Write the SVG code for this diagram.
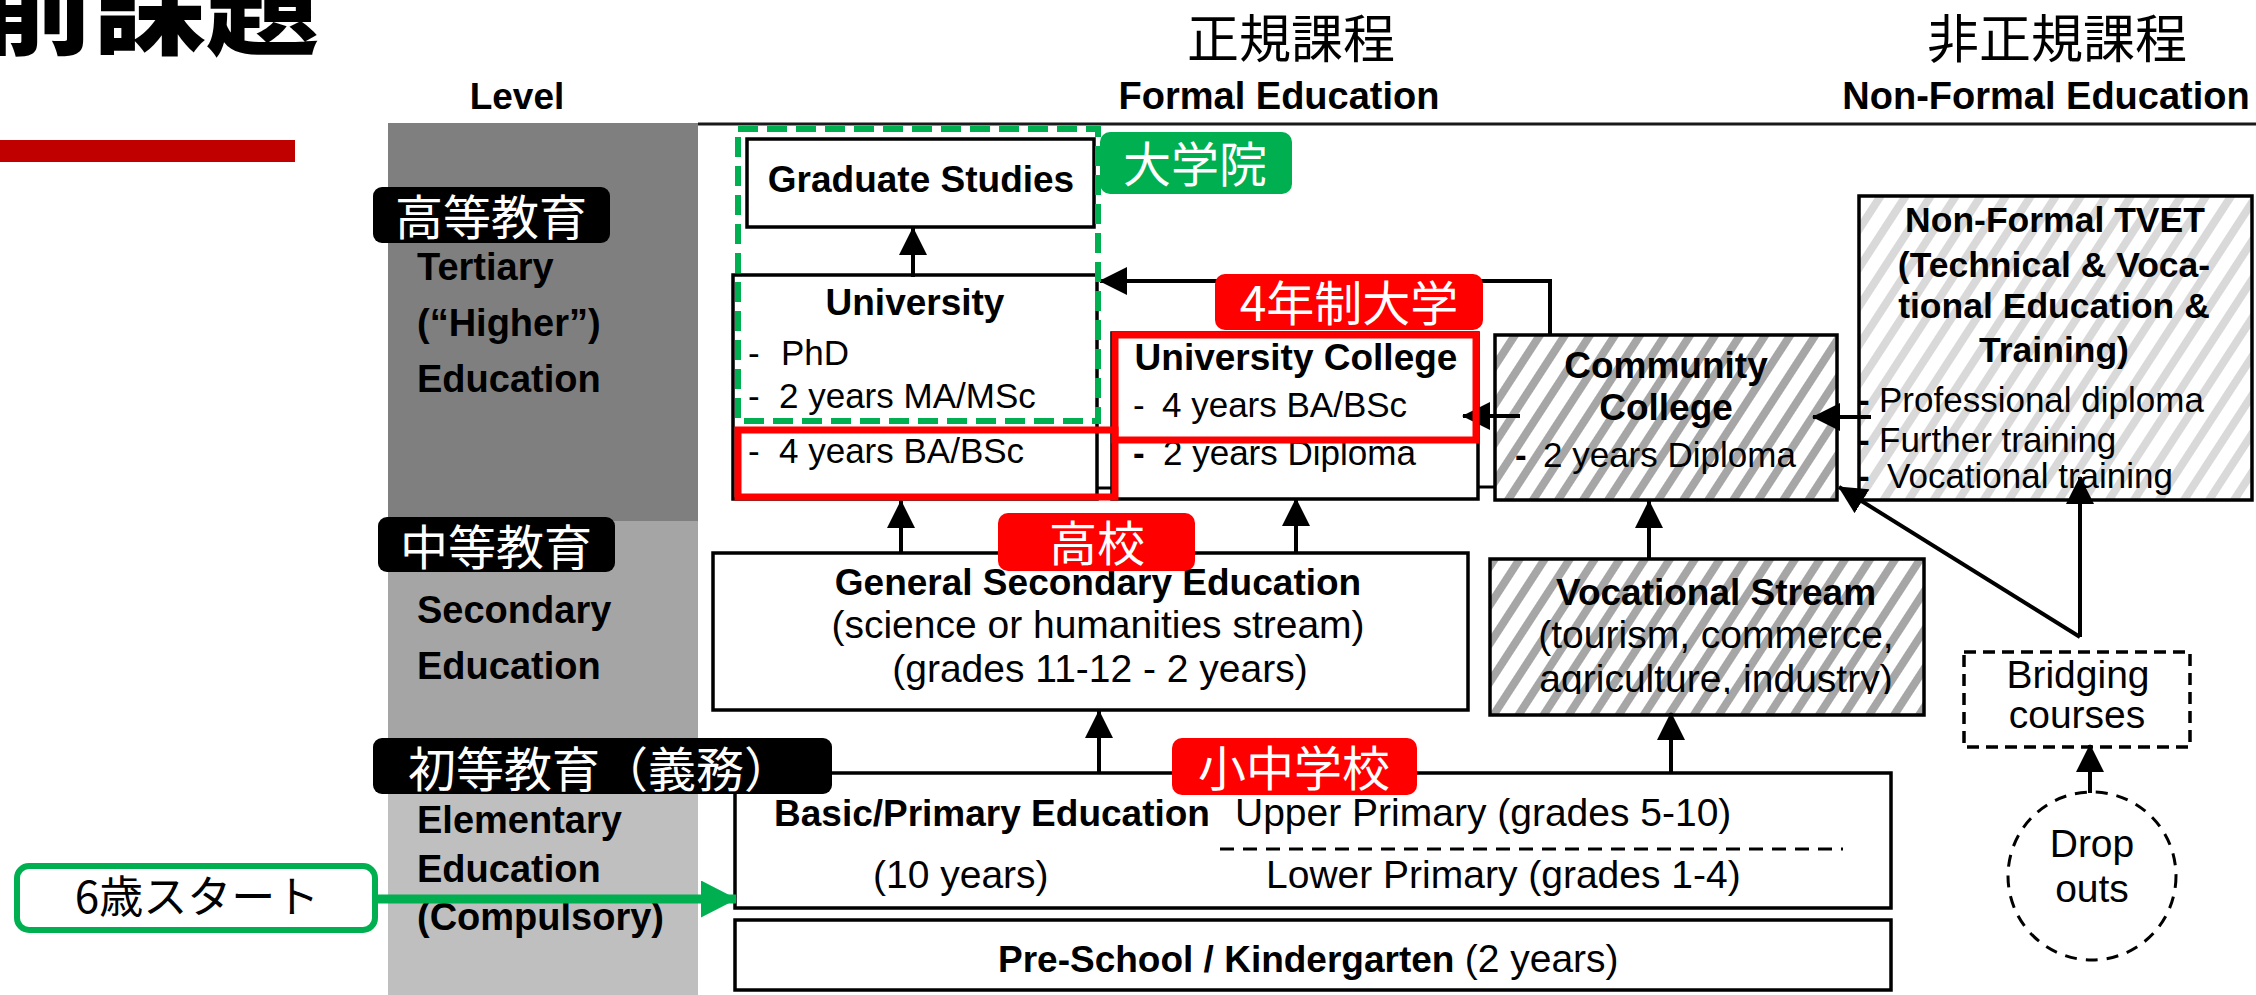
<svg xmlns="http://www.w3.org/2000/svg" width="2256" height="995" viewBox="0 0 2256 995">
<style>
.b{font-family:'Liberation Sans',Arial,sans-serif;font-weight:bold;font-size:37px;fill:#000}
.r{font-family:'Liberation Sans',Arial,sans-serif;font-size:39px;fill:#000}
.s{font-family:'Liberation Sans',Arial,sans-serif;font-size:35px;fill:#000}
.c{text-anchor:middle}
.jw{font-family:'Noto Sans CJK JP',sans-serif;font-size:48px;fill:#fff}
.jb{font-family:'Noto Sans CJK JP',sans-serif;font-size:52px;fill:#000}
.box{fill:#fff;stroke:#000;stroke-width:3.5}
.conn{fill:none;stroke:#000;stroke-width:4;marker-end:url(#ah)}
.red{fill:none;stroke:#ff0000;stroke-width:7}
</style>
<defs>
<marker id="ah" markerUnits="userSpaceOnUse" markerWidth="28" markerHeight="28" viewBox="0 0 28 28" refX="27" refY="14" orient="auto"><path d="M0,0 L28,14 L0,28 z" fill="#000"/></marker>
<marker id="ahg" markerUnits="userSpaceOnUse" markerWidth="36" markerHeight="37" viewBox="0 0 36 37" refX="35" refY="18.5" orient="auto"><path d="M0,0 L36,18.5 L0,37 z" fill="#00b050"/></marker>
<pattern id="hatchD" patternUnits="userSpaceOnUse" width="21" height="21" patternTransform="rotate(33)"><rect width="21" height="21" fill="#fff"/><rect width="8" height="21" fill="#a6a6a6"/></pattern>
<pattern id="hatchL" patternUnits="userSpaceOnUse" width="21" height="21" patternTransform="rotate(33)"><rect width="21" height="21" fill="#fff"/><rect width="8" height="21" fill="#d9d9d9"/></pattern>
<clipPath id="clipAg"><rect x="1492" y="560" width="430" height="134"/></clipPath>
</defs>
<rect width="2256" height="995" fill="#fff"/>

<g id="title">
<text x="-20" y="45" font-family="'Noto Sans CJK JP',sans-serif" font-weight="900" font-size="113" fill="#000">前課題</text>
<rect x="0" y="140" width="295" height="22" fill="#c00000"/>
</g>

<g id="header">
<text class="b c" x="517" y="109">Level</text>
<text class="jb c" x="1291" y="58">正規課程</text>
<text class="b c" x="1279" y="109" style="font-size:38px">Formal Education</text>
<text class="jb c" x="2057" y="58">非正規課程</text>
<text class="b c" x="2046" y="109" style="font-size:38px">Non-Formal Education</text>
<line x1="698" y1="124" x2="2256" y2="124" stroke="#1a1a1a" stroke-width="3"/>
</g>

<g id="level-column">
<rect x="388" y="123" width="310" height="399" fill="#7f7f7f"/>
<rect x="388" y="521" width="310" height="245" fill="#a5a5a5"/>
<rect x="388" y="765" width="310" height="230" fill="#bfbfbf"/>
<text class="b" style="font-size:38px" x="417" y="280">Tertiary</text>
<text class="b" style="font-size:38px" x="417" y="336">(“Higher”)</text>
<text class="b" style="font-size:38px" x="417" y="392">Education</text>
<text class="b" style="font-size:38px" x="417" y="623">Secondary</text>
<text class="b" style="font-size:38px" x="417" y="679">Education</text>
<text class="b" style="font-size:38px" x="417" y="833">Elementary</text>
<text class="b" style="font-size:38px" x="417" y="882">Education</text>
<text class="b" style="font-size:38px" x="417" y="930">(Compulsory)</text>
</g>

<g id="node-start">
<rect x="17" y="866" width="358" height="64" rx="12" fill="#fff" stroke="#00b050" stroke-width="6"/>
<text x="197" y="913" text-anchor="middle" font-family="'Noto Sans CJK JP',sans-serif" font-size="44" fill="#000">6歳スタート</text>
</g>

<g id="node-preschool">
<rect class="box" x="735" y="920" width="1156" height="70"/>
<text x="998" y="972"><tspan class="b">Pre-School / Kindergarten </tspan><tspan class="r">(2 years)</tspan></text>
</g>

<g id="node-basic">
<rect class="box" x="735" y="773" width="1156" height="135"/>
<text class="b" x="774" y="826">Basic/Primary Education</text>
<text class="r" x="1235" y="826">Upper Primary (grades 5-10)</text>
<line x1="1220" y1="849" x2="1843" y2="849" stroke="#000" stroke-width="3" stroke-dasharray="14 9"/>
<text class="r" x="873" y="888">(10 years)</text>
<text class="r" x="1266" y="888">Lower Primary (grades 1-4)</text>
</g>

<g id="node-general-secondary">
<rect class="box" x="713" y="553" width="755" height="157"/>
<text class="b c" x="1098" y="595">General Secondary Education</text>
<text class="r c" x="1098" y="638">(science or humanities stream)</text>
<text class="r c" x="1100" y="682">(grades 11-12 - 2 years)</text>
</g>

<g id="node-vocational">
<rect x="1490" y="559" width="434" height="156" fill="url(#hatchD)" stroke="#000" stroke-width="3.5"/>
<text class="b c" x="1716" y="605">Vocational Stream</text>
<text class="r c" x="1716" y="648">(tourism, commerce,</text>
<text class="r c" x="1716" y="692" clip-path="url(#clipAg)">agriculture, industry)</text>
</g>

<g id="node-graduate">
<rect class="box" x="747" y="139" width="347" height="88"/>
<text class="b c" x="921" y="192">Graduate Studies</text>
</g>

<g id="node-university">
<rect class="box" x="733" y="275" width="364" height="224"/>
<text class="b c" x="915" y="315">University</text>
<text class="s" y="365"><tspan x="748">-</tspan><tspan x="781">PhD</tspan></text>
<text class="s" y="408"><tspan x="748">-</tspan><tspan x="779">2 years MA/MSc</tspan></text>
<text class="s" y="463"><tspan x="748">-</tspan><tspan x="779">4 years BA/BSc</tspan></text>
</g>

<g id="node-university-college">
<rect class="box" x="1112" y="333" width="366" height="166"/>
<text class="b c" x="1296" y="370">University College</text>
<text class="s" y="417"><tspan x="1133">-</tspan><tspan x="1162">4 years BA/BSc</tspan></text>
<text class="s" y="465"><tspan x="1133" font-weight="bold">-</tspan><tspan x="1163">2 years Diploma</tspan></text>
</g>

<g id="node-community-college">
<rect x="1495" y="335" width="342" height="165" fill="url(#hatchD)" stroke="#000" stroke-width="3.5"/>
<text class="b c" x="1666" y="378">Community</text>
<text class="b c" x="1666" y="420">College</text>
<text class="s" y="467"><tspan x="1515" font-weight="bold">-</tspan><tspan x="1543">2 years Diploma</tspan></text>
</g>

<g id="node-tvet">
<rect x="1859" y="196" width="393" height="304" fill="url(#hatchL)" stroke="#000" stroke-width="3.5"/>
<text class="b c" style="font-size:35.5px" x="2055" y="232">Non-Formal TVET</text>
<text class="b c" style="font-size:35.5px" x="2054" y="277">(Technical &amp; Voca-</text>
<text class="b c" style="font-size:35.5px" x="2054" y="318">tional Education &amp;</text>
<text class="b c" style="font-size:35.5px" x="2054" y="362">Training)</text>
<text class="s" y="412"><tspan x="1858" font-weight="bold">-</tspan><tspan x="1879">Professional diploma</tspan></text>
<text class="s" y="452"><tspan x="1858" font-weight="bold">-</tspan><tspan x="1879">Further training</tspan></text>
<text class="s" y="488"><tspan x="1858" font-weight="bold">-</tspan><tspan x="1887">Vocational training</tspan></text>
</g>

<g id="node-bridging">
<rect x="1964" y="652" width="226" height="95" fill="#fff" stroke="#000" stroke-width="3.5" stroke-dasharray="12 7"/>
<text class="r c" x="2078" y="688">Bridging</text>
<text class="r c" x="2077" y="728">courses</text>
</g>

<g id="node-dropouts">
<circle cx="2092" cy="876" r="84" fill="#fff" stroke="#000" stroke-width="3" stroke-dasharray="12 9"/>
<text class="r c" x="2092" y="857">Drop</text>
<text class="r c" x="2092" y="902">outs</text>
</g>

<g id="connectors">
<line x1="1097" y1="488" x2="1113" y2="488" stroke="#000" stroke-width="3"/>
<line x1="1478" y1="487" x2="1495" y2="487" stroke="#000" stroke-width="3"/>
<path class="conn" d="M913,277 V228"/>
<path class="conn" d="M1550,335 V281 H1100"/>
<path class="conn" d="M901,553 V501"/>
<path class="conn" d="M1296,553 V499"/>
<path class="conn" d="M1099,773 V711"/>
<path class="conn" d="M1671,773 V713"/>
<path class="conn" d="M1649,559 V501"/>
<path class="conn" d="M1520,416 H1463"/>
<path class="conn" d="M1871,417 H1813"/>
<path class="conn" d="M2080,637 V477"/>
<path class="conn" d="M2080,637 L1839,487"/>
<path class="conn" d="M2090,793 V745"/>
<path d="M378,899 H736" fill="none" stroke="#00b050" stroke-width="9" marker-end="url(#ahg)"/>
</g>

<g id="annotations">
<rect x="738" y="129" width="360" height="292" fill="none" stroke="#00b050" stroke-width="6" stroke-dasharray="20 9"/>
<rect class="red" x="738" y="430" width="377" height="67"/>
<rect class="red" x="1115" y="335" width="361" height="105"/>
<g id="label-daigakuin"><rect x="1100" y="132" width="192" height="62" rx="10" fill="#00b050"/><text class="jw c" x="1195" y="182">大学院</text></g>
<g id="label-4nen"><rect x="1215" y="274" width="268" height="56" rx="10" fill="#ff0000"/><text class="jw c" x="1349" y="321">4年制大学</text></g>
<g id="label-koukou"><rect x="998" y="513" width="197" height="58" rx="10" fill="#ff0000"/><text class="jw c" x="1097" y="561">高校</text></g>
<g id="label-shochu"><rect x="1172" y="738" width="245" height="57" rx="10" fill="#ff0000"/><text class="jw c" x="1294" y="786">小中学校</text></g>
<g id="label-koutou"><rect x="373" y="187" width="237" height="56" rx="9" fill="#000"/><text class="jw c" x="491" y="235">高等教育</text></g>
<g id="label-chuutou"><rect x="378" y="517" width="237" height="55" rx="9" fill="#000"/><text class="jw c" x="496" y="565">中等教育</text></g>
<g id="label-shotou"><rect x="373" y="738" width="459" height="56" rx="9" fill="#000"/><text class="jw" x="408" y="787">初等教育（義務）</text></g>
</g>
</svg>
